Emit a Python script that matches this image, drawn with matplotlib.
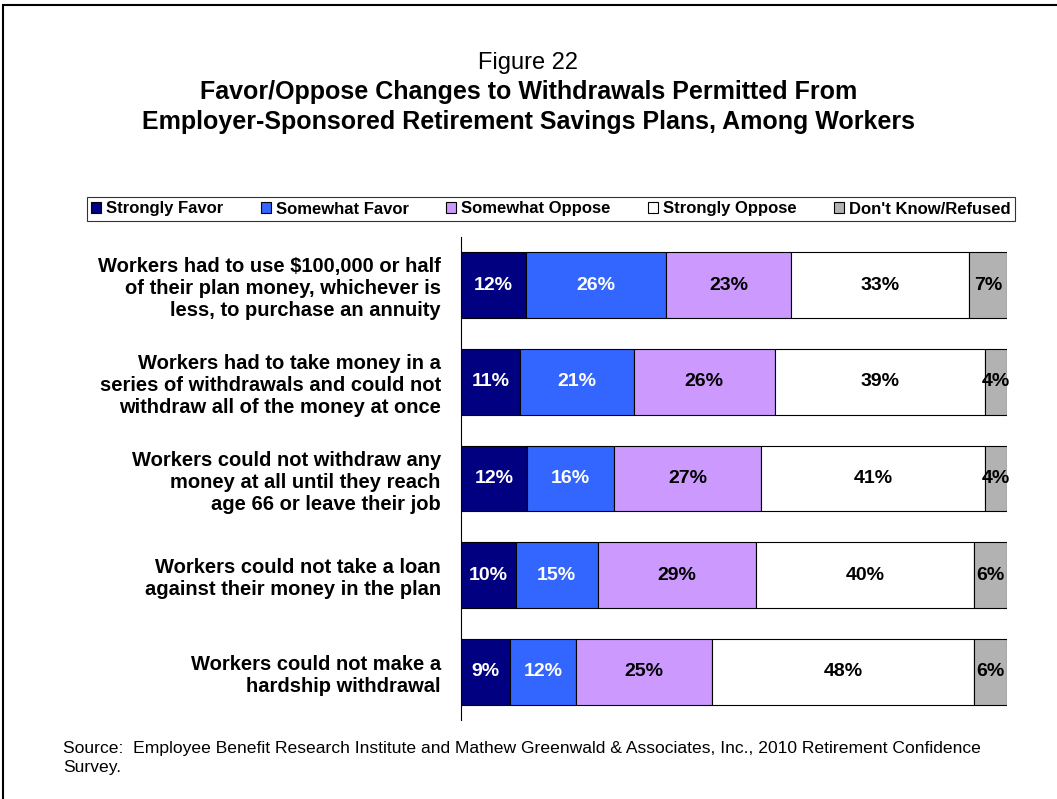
import numpy as np
import matplotlib.pyplot as plt
from matplotlib.patches import Rectangle, Patch

plt.rcParams['font.family'] = ['Liberation Sans', 'DejaVu Sans']

# ---- data ----
questions = [
    "Workers had to use $100,000 or half\nof their plan money, whichever is\nless, to purchase an annuity",
    "Workers had to take money in a\nseries of withdrawals and could not\nwithdraw all of the money at once",
    "Workers could not withdraw any\nmoney at all until they reach\nage 66 or leave their job",
    "Workers could not take a loan\nagainst their money in the plan",
    "Workers could not make a\nhardship withdrawal",
]
categories = ["Strongly Favor", "Somewhat Favor", "Somewhat Oppose",
              "Strongly Oppose", "Don't Know/Refused"]
strongly_favor = [12, 11, 12, 10, 9]
somewhat_favor = [26, 21, 16, 15, 12]
somewhat_oppose = [23, 26, 27, 29, 25]
strongly_oppose = [33, 39, 41, 40, 48]
dont_know = [7, 4, 4, 6, 6]

colors = ['#000080', '#3366FF', '#CC99FF', '#FFFFFF', '#B2B2B2']
text_colors = ['white', 'white', 'black', 'black', 'black']

series = np.array([strongly_favor, somewhat_favor, somewhat_oppose,
                   strongly_oppose, dont_know], dtype=float)
# bars in the original are drawn full width, so scale each row to 100
scaled = series / series.sum(axis=0) * 100

fig = plt.figure(figsize=(10.57, 7.99), dpi=100, facecolor='white')

# outer frame (only left/top visible in the original)
fig.patches.append(Rectangle((3 / 1057, -0.1), 1.2, (1 - 5 / 799) + 0.1,
                             transform=fig.transFigure, fill=False,
                             edgecolor='black', lw=1.5))

ax = fig.add_axes([461 / 1057, 1 - 720 / 799, (1007 - 461) / 1057, (720 - 237) / 799])

y = np.arange(len(questions))
left = np.zeros(len(questions))
for i, cat in enumerate(categories):
    ax.barh(y, scaled[i], left=left, height=0.68, color=colors[i],
            edgecolor='black', linewidth=0.8)
    for j in range(len(questions)):
        ax.text(left[j] + scaled[i][j] / 2, y[j], f"{int(series[i][j])}%",
                ha='center', va='center', fontsize=14, fontweight='bold',
                color=text_colors[i])
    left += scaled[i]

ax.set_xlim(0, 100)
ax.set_ylim(len(questions) - 0.5, -0.5)
ax.set_xticks([])
ax.set_yticks(y)
ax.set_yticklabels(questions, fontsize=14.5, fontweight='bold', linespacing=1.2)
ax.tick_params(axis='y', length=0, pad=14.5)
for s in ['top', 'right', 'bottom']:
    ax.spines[s].set_visible(False)
ax.spines['left'].set_linewidth(0.8)

# titles
fig.text(0.5, 1 - 63 / 799, "Figure 22", ha='center', va='center', fontsize=17)
fig.text(0.5, 1 - 107 / 799,
         "Favor/Oppose Changes to Withdrawals Permitted From\n"
         "Employer-Sponsored Retirement Savings Plans, Among Workers",
         ha='center', va='center', fontsize=18, fontweight='bold', linespacing=1.27)

# legend
handles = [Patch(facecolor=c, edgecolor='black', linewidth=0.8) for c in colors]
leg = fig.legend(handles, categories, loc='center', ncol=5,
                 bbox_to_anchor=(551 / 1057, 1 - 209 / 799),
                 prop={'weight': 'bold', 'size': 12}, frameon=True,
                 fancybox=False, handlelength=0.6, handleheight=0.6,
                 handletextpad=0.3, columnspacing=2.25, borderpad=0.25)
leg.get_frame().set_edgecolor('black')
leg.get_frame().set_linewidth(0.8)

# source
fig.text(63 / 1057, 1 - 758 / 799,
         "Source:  Employee Benefit Research Institute and Mathew Greenwald & Associates, Inc., 2010 Retirement Confidence\nSurvey.",
         ha='left', va='center', fontsize=12.6, linespacing=1.3)

fig.savefig('out.png', dpi=100)
